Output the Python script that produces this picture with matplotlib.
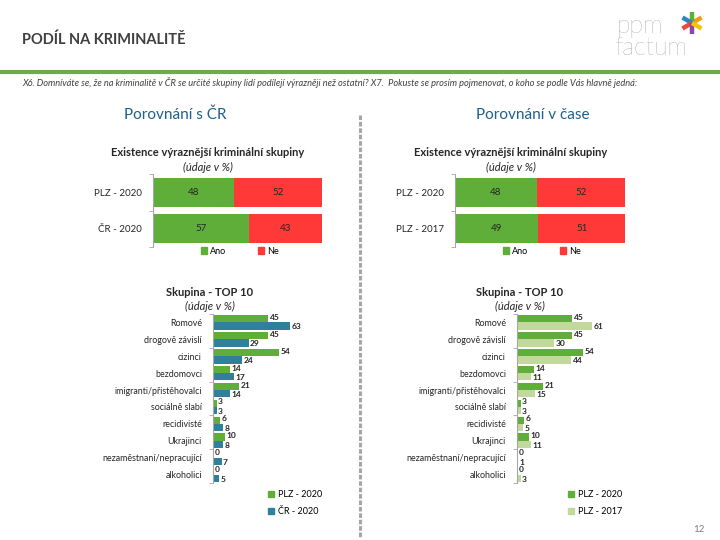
import matplotlib.pyplot as plt
import matplotlib.patches as mpatches
from matplotlib.lines import Line2D
import numpy as np

plt.rcParams['font.family'] = ['Lato', 'DejaVu Sans']

# data
top_left_cats = ['PLZ - 2020', 'ČR - 2020']
top_left_ano = [48, 57]
top_left_ne = [52, 43]

top_right_cats = ['PLZ - 2020', 'PLZ - 2017']
top_right_ano = [48, 49]
top_right_ne = [52, 51]

skupiny = ['Romové', 'drogově závislí', 'cizinci', 'bezdomovci', 'imigranti/přistěhovalci',
           'sociálně slabí', 'recidivisté', 'Ukrajinci', 'nezaměstnaní/nepracující', 'alkoholici']
plz_2020 = [45, 45, 54, 14, 21, 3, 6, 10, 0, 0]
cr_2020 = [63, 29, 24, 17, 14, 3, 8, 8, 7, 5]
plz_2017 = [61, 30, 44, 11, 15, 3, 5, 11, 1, 3]

GREEN = '#5fae3a'
RED = '#ff3838'
TEAL = '#31809b'
LIGHT = '#c3d89c'
TXT = '#262626'

W, H = 720, 540
fig = plt.figure(figsize=(7.2, 5.4), dpi=100)


def box(x0, y0, x1, y1):
    return [x0 / W, 1 - y1 / H, (x1 - x0) / W, (y1 - y0) / H]


def fy(y):
    return 1 - y / H


# header
fig.text(22 / W, fy(40), 'PODÍL NA KRIMINALITĚ', fontsize=10.5, weight='bold',
         color='#404040', va='center', ha='left')
fig.add_artist(Line2D([0, 1], [fy(72), fy(72)], transform=fig.transFigure,
                      color='#6aae45', lw=3))
fig.text(22 / W, fy(82), 'X6. Domníváte se, že na kriminalitě v ČR se určité skupiny lidí podílejí '
         'výrazněji než ostatní? X7.  Pokuste se prosím pojmenovat, o koho se podle Vás hlavně jedná:',
         fontsize=6.7, style='italic', color='#404040', va='center', ha='left')

# logo
fig.text(617 / W, fy(33), 'ppm', fontsize=18, color='#7a7a7a', va='baseline', ha='left',
         weight='light')
fig.text(614 / W, fy(55), 'factum', fontsize=18, color='#7a7a7a', va='baseline', ha='left',
         weight='light')
cx, cy = 692, 23
ray_cols = ['#f39c12', '#5fae3a', '#2e86c1', '#e74c3c', '#8e44ad', '#f1c40f']
for i, c in enumerate(ray_cols):
    a = np.pi / 6 + i * np.pi / 3
    fig.add_artist(Line2D([(cx) / W, (cx + 11 * np.cos(a)) / W],
                          [fy(cy), fy(cy - 11 * np.sin(a))],
                          transform=fig.transFigure, color=c, lw=3.2,
                          solid_capstyle='butt'))

# subtitles
fig.text(175 / W, fy(115), 'Porovnání s ČR', fontsize=11, color='#1f5f8b', ha='center', va='center')
fig.text(533 / W, fy(115), 'Porovnání v čase', fontsize=11, color='#1f5f8b', ha='center', va='center')

# separator
fig.add_artist(Line2D([360 / W, 360 / W], [fy(115), fy(537)], transform=fig.transFigure,
                      color='#a6a6a6', lw=2.2, linestyle=(0, (1.5, 0.6))))

fig.text(705 / W, fy(530), '12', fontsize=7, color='#7f7f7f', ha='right', va='center')


def stacked(rect, cats, ano, ne, title_x, legend_x):
    ax = fig.add_axes(box(*rect))
    y = np.arange(len(cats))
    ax.barh(y, ano, height=0.8, color=GREEN)
    ax.barh(y, ne, left=ano, height=0.8, color=RED)
    for i in range(len(cats)):
        ax.text(ano[i] / 2, y[i], str(ano[i]), ha='center', va='center', fontsize=7, color=TXT)
        ax.text(ano[i] + ne[i] / 2, y[i], str(ne[i]), ha='center', va='center', fontsize=7, color=TXT)
    ax.set_xlim(0, 100)
    ax.set_ylim(1.5, -0.5)
    ax.set_yticks(y)
    ax.set_yticklabels(cats, fontsize=7, color=TXT)
    ax.set_yticks([-0.5, 0.5, 1.5], minor=True)
    ax.tick_params(axis='y', which='major', length=0, pad=8)
    ax.tick_params(axis='y', which='minor', length=3, color='#a6a6a6')
    ax.set_xticks([])
    for s in ['top', 'right', 'bottom']:
        ax.spines[s].set_visible(False)
    ax.spines['left'].set_color('#a6a6a6')
    fig.text(title_x / W, fy(152), 'Existence výraznější kriminální skupiny', fontsize=8,
             weight='bold', ha='center', va='center', color=TXT)
    fig.text(title_x / W, fy(167), '(údaje v %)', fontsize=8, style='italic',
             ha='center', va='center', color=TXT)
    handles = [mpatches.Patch(color=GREEN, label='Ano'), mpatches.Patch(color=RED, label='Ne')]
    fig.legend(handles=handles, loc='center', bbox_to_anchor=(legend_x / W, fy(251)),
               ncol=2, frameon=False, fontsize=6.5, handlelength=0.7, handleheight=0.7,
               handletextpad=0.3, columnspacing=3.5)


stacked((153, 174, 322, 247), top_left_cats, top_left_ano, top_left_ne, 208, 240)
stacked((455, 174, 625, 247), top_right_cats, top_right_ano, top_right_ne, 511, 542)


def grouped(x0, a, b, col_b, lab_a, lab_b, title_x, legend_x):
    ax = fig.add_axes(box(x0, 314, x0 + 86, 483))
    y = np.arange(len(skupiny))
    h = 0.43
    ax.barh(y - h / 2, a, height=h, color=GREEN)
    ax.barh(y + h / 2, b, height=h, color=col_b)
    for i in range(len(skupiny)):
        ax.text(a[i] + 1.2, y[i] - h / 2 - 0.08, str(a[i]), ha='left', va='center',
                fontsize=6, weight='bold', color=TXT)
        ax.text(b[i] + 1.2, y[i] + h / 2 + 0.05, str(b[i]), ha='left', va='center',
                fontsize=6, weight='bold', color=TXT)
    ax.set_xlim(0, 70)
    ax.set_ylim(len(skupiny) - 0.5, -0.5)
    ax.set_yticks(y)
    ax.set_yticklabels(skupiny, fontsize=6.4, color=TXT)
    ax.set_yticks(np.arange(-0.5, len(skupiny), 2), minor=True)
    ax.tick_params(axis='y', which='major', length=0, pad=8)
    ax.tick_params(axis='y', which='minor', length=3, color='#a6a6a6')
    ax.set_xticks([])
    for s in ['top', 'right', 'bottom']:
        ax.spines[s].set_visible(False)
    ax.spines['left'].set_color('#a6a6a6')
    fig.text(title_x / W, fy(292), 'Skupina - TOP 10', fontsize=8, weight='bold',
             ha='center', va='center', color=TXT)
    fig.text(title_x / W, fy(306), '(údaje v %)', fontsize=8, style='italic',
             ha='center', va='center', color=TXT)
    handles = [mpatches.Patch(color=GREEN, label=lab_a), mpatches.Patch(color=col_b, label=lab_b)]
    fig.legend(handles=handles, loc='upper left', bbox_to_anchor=(legend_x / W, fy(482)),
               ncol=1, frameon=False, fontsize=6.5, handlelength=0.7, handleheight=0.7,
               handletextpad=0.4, labelspacing=0.9)


grouped(213, plz_2020, cr_2020, TEAL, 'PLZ - 2020', 'ČR - 2020', 210, 260)
grouped(517, plz_2020, plz_2017, LIGHT, 'PLZ - 2020', 'PLZ - 2017', 520, 560)

fig.savefig('out.png', dpi=100)
